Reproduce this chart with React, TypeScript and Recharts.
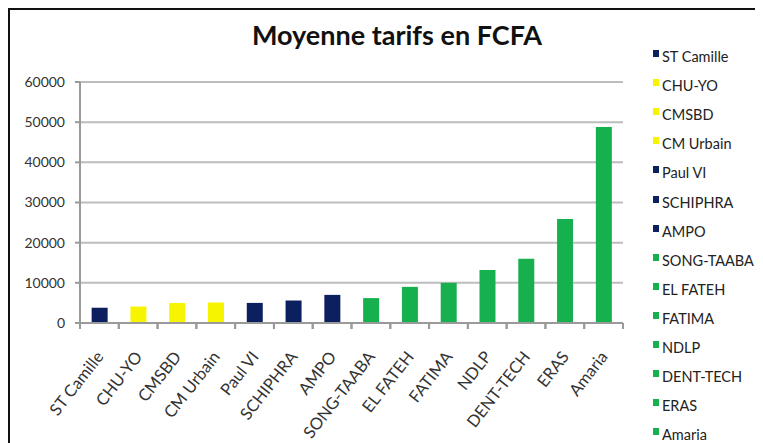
import React from "react";
import { Bar, BarChart, CartesianGrid, Cell, XAxis, YAxis } from "recharts";

const categories = [
	"ST Camille",
	"CHU-YO",
	"CMSBD",
	"CM Urbain",
	"Paul VI",
	"SCHIPHRA",
	"AMPO",
	"SONG-TAABA",
	"EL FATEH",
	"FATIMA",
	"NDLP",
	"DENT-TECH",
	"ERAS",
	"Amaria",
];

const tarifs = [3800, 4100, 5000, 5100, 5000, 5600, 7000, 6200, 9000, 10000, 13200, 16000, 25900, 48800];

const groups = ["navy", "yellow", "yellow", "yellow", "navy", "navy", "navy", "green", "green", "green", "green", "green", "green", "green"];

const yTicks = [0, 10000, 20000, 30000, 40000, 50000, 60000];

const palette: Record<string, string> = {
	navy: "#0c1f5e",
	yellow: "#f7f400",
	green: "#17b04e",
};

const data = categories.map((name, i) => ({ name, value: tarifs[i], group: groups[i] }));

const font = "Lato, 'Open Sans', sans-serif";

// label penché + petit trait entre les catégories (comme Excel)
function AngledTick({ x, y, payload }: any) {
	const half = payload.offset || 19.4;
	return (
		<g>
			<line x1={x - half} x2={x - half} y1={y} y2={y + 6} stroke="#9a9a9a" strokeWidth={2} />
			<line x1={x + half} x2={x + half} y1={y} y2={y + 6} stroke="#9a9a9a" strokeWidth={2} />
			<g transform={`translate(${x + 5},${y + 34})`}>
				<text x={0} y={0} textAnchor="end" fill="#333" fontSize={16.5} fontFamily={font} transform="rotate(-52)">
					{payload.value}
				</text>
			</g>
		</g>
	);
}

export default function App() {
	return (
		<div
			style={{
				position: "relative",
				width: 770,
				height: 450,
				borderTop: "2px solid #111",
				borderLeft: "2px solid #111",
				background: "#fff",
				fontFamily: font,
			}}
		>
			<span
				style={{
					position: "absolute",
					left: 387,
					top: 8,
					transform: "translateX(-50%)",
					whiteSpace: "nowrap",
					fontSize: 27,
					fontWeight: 700,
					color: "#111",
				}}
			>
				Moyenne tarifs en FCFA
			</span>
			<BarChart
				width={620}
				height={432}
				data={data}
				margin={{ top: 72, right: 7, bottom: 0, left: 0 }}
				barCategoryGap="30%"
				style={{ position: "absolute", left: 0, top: 0 }}
			>
				<CartesianGrid vertical={false} stroke="#bdbdbd" strokeWidth={2} />
				<XAxis
					dataKey="name"
					interval={0}
					height={119}
					tick={<AngledTick />}
					tickLine={false}
					tickSize={0}
					tickMargin={0}
					stroke="#9a9a9a"
					strokeWidth={2}
				/>
				<YAxis
					domain={[0, 60000]}
					ticks={yTicks}
					width={70}
					stroke="#9a9a9a"
					strokeWidth={2}
					tickSize={5}
					tick={{ fill: "#333", fontSize: 14, fontFamily: font, dx: -8 }}
				/>
				<Bar dataKey="value" isAnimationActive={false}>
					{data.map((d) => (
						<Cell key={d.name} fill={palette[d.group]} />
					))}
				</Bar>
			</BarChart>
			<div style={{ position: "absolute", left: 643, top: 32 }}>
				{data.map((d) => (
					<div
						key={d.name}
						style={{ display: "flex", alignItems: "center", height: 29.1, fontSize: 14.5, color: "#222", whiteSpace: "nowrap" }}
					>
						<span style={{ width: 6, height: 7, background: palette[d.group], marginRight: 3, marginTop: -6 }} />
						{d.name}
					</div>
				))}
			</div>
		</div>
	);
}
